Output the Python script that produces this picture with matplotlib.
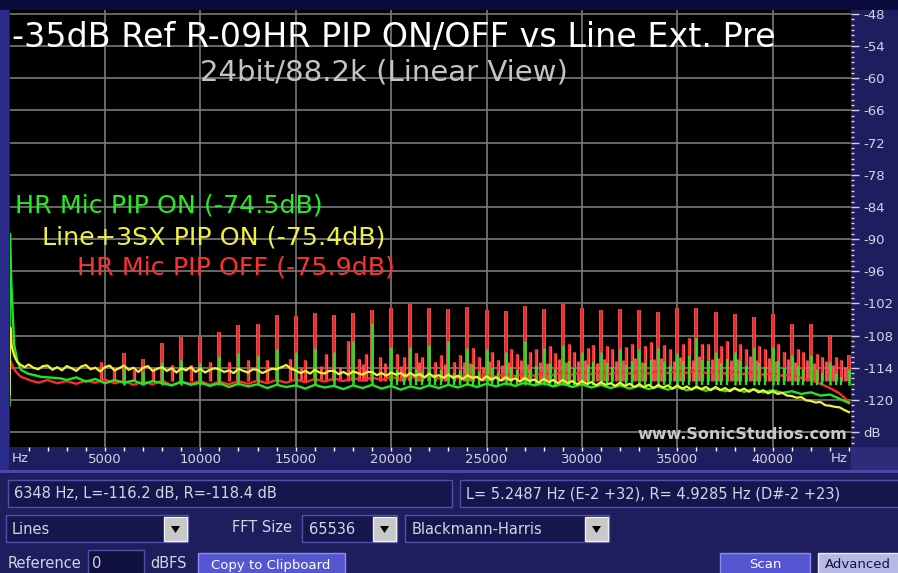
import numpy as np
import matplotlib.pyplot as plt
from matplotlib.patches import Rectangle, Polygon

# ---- data (Hz, dB) ----
# yellow: Line+3SX, read every 250 Hz above 1 kHz
YEL_F = [0, 40, 120, 250, 400, 600, 800] + list(range(1000, 44001, 250))
YEL_DB = [-119.0, -106.5, -110.0, -111.8, -112.9, -113.5, -113.9,
          -113.4, -114.0, -114.3, -113.7, -113.6, -114.4, -113.9, -114.5,
          -113.7, -114.1, -114.6, -113.8, -113.5, -114.3, -114.0, -114.7,
          -113.9, -113.6, -114.5, -114.1, -113.6, -114.4, -114.0, -114.8,
          -114.0, -113.7, -114.6, -114.2, -113.9, -114.6, -114.1, -114.9,
          -114.1, -114.5, -113.9, -114.8, -114.2, -114.9, -114.4, -114.1,
          -114.3, -114.8, -114.5, -115.0, -114.2, -114.6, -114.9, -114.3,
          -114.4, -115.0, -114.6, -114.2, -114.3, -113.9, -113.5, -114.2,
          -114.5, -115.0, -114.6, -115.1, -114.4, -114.9, -115.1, -114.6,
          -114.6, -115.2, -114.8, -115.3, -114.7, -115.0, -115.3, -114.8,
          -114.8, -115.4, -115.0, -115.5, -114.9, -115.3, -115.0, -115.6,
          -115.0, -115.5, -115.2, -115.8, -115.1, -115.7, -115.4, -115.9,
          -115.3, -115.9, -115.5, -116.1, -115.4, -115.9, -115.7, -116.3,
          -115.6, -116.2, -115.8, -116.4, -115.8, -116.3, -116.0, -116.6,
          -115.9, -116.5, -116.2, -116.8, -116.1, -116.7, -116.3, -116.9,
          -116.3, -116.9, -116.5, -117.1, -116.5, -117.0, -116.7, -117.3,
          -116.7, -117.2, -116.9, -117.4, -116.8, -117.4, -117.0, -117.6,
          -117.1, -117.6, -117.2, -117.8, -117.2, -117.7, -117.3, -117.9,
          -117.3, -117.9, -117.5, -118.1, -117.5, -118.0, -117.6, -118.2,
          -117.6, -118.2, -117.8, -118.4, -117.8, -118.3, -117.9, -118.5,
          -118.0, -118.6, -118.2, -118.8, -118.4, -118.9, -118.7, -119.2,
          -119.3, -119.6, -119.5, -120.1, -120.2, -120.5, -120.4, -121.0,
          -121.1, -121.3, -121.4, -121.9, -122.3]

GRN_F = [0, 25, 80, 160, 245, 420, 600, 960, 1640, 2700,
         3000, 3500, 4000, 4500, 5000, 5500, 6000, 6500, 7000, 7500,
         8000, 8500, 9000, 9500, 10000, 10500, 11000, 11500, 12000, 12500,
         13000, 13500, 14000, 14500, 15000, 15500, 16000, 16500, 17000, 17500,
         18000, 18500, 19000, 19500, 20000, 20500, 21000, 21500, 22000, 22500,
         23000, 23500, 24000, 24500, 25000, 25500, 26000, 26500, 27000, 27500,
         28000, 28500, 29000, 29500, 30000, 30500, 31000, 31500, 32000, 32500,
         33000, 33500, 34000, 34500, 35000, 35500, 36000, 36500, 37000, 37500,
         38000, 38500, 39000, 39500, 40000, 40500, 41000, 41500, 42000, 42500,
         43000, 43500, 44000]
GRN_DB = [-121.0, -89.0, -97.0, -103.5, -109.7, -112.9, -114.4, -115.1, -115.7, -116.0,
          -116.3, -115.8, -116.6, -116.1, -116.9, -116.3, -116.8, -116.4, -117.1, -116.5,
          -116.9, -117.3, -116.6, -117.2, -116.8, -117.4, -116.9, -117.6, -117.0, -117.5,
          -117.1, -117.8, -117.2, -117.6, -117.3, -117.9, -117.2, -117.7, -117.4, -118.0,
          -117.3, -117.8, -117.2, -117.9, -117.4, -118.1, -117.5, -117.9, -117.3, -117.8,
          -117.2, -117.7, -117.1, -117.6, -117.0, -117.5, -116.9, -117.4, -116.8, -117.3,
          -116.9, -117.5, -117.0, -117.6, -117.1, -117.7, -117.2, -117.8, -117.3, -117.9,
          -117.4, -118.0, -117.5, -118.1, -117.6, -118.2, -117.7, -118.3, -117.8, -118.4,
          -117.9, -118.5, -118.0, -118.6, -118.2, -118.7, -118.4, -118.9, -118.6, -119.2,
          -119.0, -119.8, -120.6]

RED_F = [0, 20, 100, 200, 335, 600, 1120,
         1500, 2000, 2500, 3000, 3500, 4000, 4500, 5000, 5500, 6000,
         6500, 7000, 7500, 8000, 8500, 9000, 9500, 10000, 10500, 11000,
         11500, 12000, 12500, 13000, 13500, 14000, 14500, 15000, 15500, 16000,
         16500, 17000, 17500, 18000, 18500, 19000, 19500, 20000, 20500, 21000,
         21500, 22000, 22500, 23000, 23500, 24000, 24500, 25000, 25500, 26000,
         26500, 27000, 27500, 28000, 28500, 29000, 29500, 30000, 30500, 31000,
         31500, 32000, 32500, 33000, 33500, 34000, 34500, 35000, 35500, 36000,
         36500, 37000, 37500, 38000, 38500, 39000, 39500, 40000, 40500, 41000,
         41500, 42000, 42500, 43000, 43500, 44000]
RED_DB = [-121.0, -112.5, -113.2, -114.0, -114.75, -115.7, -116.4,
          -116.8, -116.3, -116.9, -116.5, -117.0, -116.4, -116.8, -116.2, -116.9, -116.5,
          -117.2, -116.6, -117.1, -116.4, -117.3, -116.7, -117.0, -116.5, -117.2, -116.6,
          -117.1, -116.5, -117.0, -116.4, -116.9, -116.3, -116.8, -116.2, -116.7, -116.1,
          -116.6, -116.0, -116.5, -115.9, -116.4, -115.8, -116.3, -115.7, -116.2, -115.6,
          -116.1, -115.5, -116.0, -115.4, -115.9, -115.3, -115.8, -115.2, -115.7, -115.1,
          -115.6, -115.0, -115.5, -114.9, -115.4, -114.8, -115.3, -114.8, -115.2, -114.7,
          -115.2, -114.7, -115.1, -114.6, -115.1, -114.6, -115.0, -114.5, -115.0, -114.5,
          -115.0, -114.6, -115.1, -114.7, -115.2, -114.8, -115.3, -115.0, -115.5, -115.3,
          -115.9, -116.3, -117.0, -117.8, -118.8, -120.4]

# interference spikes every 1 kHz
SPIKE_F = [6000, 7000, 8000, 9000, 10000, 11000, 12000, 13000, 14000, 15000,
           16000, 17000, 18000, 19000, 20000, 21000, 22000, 23000, 24000, 25000,
           26000, 27000, 28000, 29000, 30000, 31000, 32000, 33000, 34000, 35000,
           36000, 37000, 38000, 39000, 40000, 41000, 42000, 43000, 44000]
RED_SPIKE_DB = [-111.3, -112.3, -109.4, -108.2, -108.2, -107.3, -106.0, -105.8, -104.1, -104.4,
                -103.8, -104.1, -103.8, -103.2, -102.9, -102.1, -102.9, -103.0, -102.6, -103.2,
                -103.5, -102.4, -103.0, -102.1, -102.8, -103.3, -103.1, -103.3, -103.6, -102.8,
                -102.8, -103.6, -104.0, -104.5, -104.0, -105.9, -105.9, -107.9, -111.6]
GRN_SPIKE_DB = [-114.0, -114.6, -112.9, -112.5, -113.2, -111.9, -111.3, -111.6, -110.6, -111.0,
                -110.4, -111.0, -109.1, -105.7, -110.1, -110.1, -109.7, -109.1, -110.4, -110.6,
                -111.0, -109.1, -110.4, -109.7, -111.0, -111.0, -110.6, -110.6, -110.4, -111.3,
                -108.5, -111.0, -111.0, -110.1, -110.1, -111.6, -111.6, -112.9, -114.2]

RED_MINOR_F = [4800, 5500, 6500, 7500, 8500, 9500, 10500, 11500, 12500, 13500,
               14700, 15500, 16600, 17750, 18300, 18700, 19400, 20300, 20700, 21300, 21600,
               22300, 22600, 23300, 23600, 24300, 24600, 25300, 25600, 26300, 26600,
               27300, 27600, 28300, 28600, 29300, 29600, 30300, 30600, 31300, 31600,
               32300, 32600, 33300, 33600, 34300, 34600, 35300, 35600, 36300, 36600,
               37300, 37600, 38300, 38600, 39300, 39600, 40300, 40600, 41300, 41600,
               42300, 42600, 43300, 43600]
RED_MINOR_DB = [-112.9, -114.0, -114.5, -114.0, -113.5, -113.5, -113.0, -113.0, -112.5, -112.5,
                -112.3, -112.5, -111.5, -109.1, -112.3, -111.5, -112.0, -111.5, -112.0, -111.3, -112.0,
                -112.9, -111.6, -112.9, -111.6, -110.4, -112.0, -111.0, -112.5, -110.5, -111.5,
                -111.0, -110.5, -110.0, -111.3, -109.5, -111.0, -110.3, -109.8, -110.0, -110.5,
                -110.2, -109.5, -110.0, -109.2, -109.8, -110.5, -109.5, -108.5, -109.5, -109.5,
                -110.0, -109.0, -109.5, -110.5, -110.0, -110.5, -109.5, -111.0, -110.5, -111.0,
                -111.5, -112.0, -112.0, -112.5]
RED_SMALL_F = [15300, 16300, 17300, 18500, 19700, 20500, 21450, 22800, 23800,
               24150, 24800, 25150, 25800, 26150, 26800, 27150, 27800, 28150, 28800,
               29150, 29800, 30150, 30800, 31150, 31800, 32150, 32800, 33150, 33800,
               34150, 34800, 35150, 35800, 36150, 36800, 37150, 37800, 38150, 38800,
               39150, 39800, 40150, 40800, 41150, 41800, 42150, 42800, 43150, 43800]
RED_SMALL_DB = [-114.0, -113.6, -113.8, -113.4, -113.2, -113.6, -113.0, -113.4, -112.9,
                -113.2, -113.8, -112.8, -113.5, -113.0, -112.6, -113.4, -112.9, -113.1, -112.4,
                -113.0, -112.7, -112.5, -113.2, -112.3, -112.8, -112.6, -112.1, -112.9, -112.4,
                -112.2, -112.7, -112.0, -112.5, -111.8, -112.4, -112.1, -112.6, -112.3, -111.9,
                -112.5, -112.2, -112.8, -112.3, -112.9, -112.6, -113.2, -112.8, -113.5, -113.9]
GRN_MINOR_F = [20300, 20700, 21300, 21600,
               22300, 22600, 23300, 23600, 24300, 24600, 25300, 25600, 26300, 26600,
               27300, 27600, 28300, 28600, 29300, 29600, 30300, 30600, 31300, 31600,
               32300, 32600, 33300, 33600, 34300, 34600, 35300, 35600, 36300, 36600,
               37300, 37600, 38300, 38600, 39300, 39600, 40300, 40600, 41300, 41600,
               42300, 42600, 43300, 43600]
GRN_MINOR_DB = [-114.5, -115.0, -114.3, -114.8,
                -115.2, -114.5, -115.0, -114.6, -113.5, -114.8, -114.0, -115.0, -113.8, -114.5,
                -114.2, -113.6, -113.4, -114.3, -112.8, -114.0, -113.5, -113.0, -113.2, -113.8,
                -113.5, -112.8, -113.2, -112.5, -113.0, -113.6, -112.8, -111.8, -112.6, -112.8,
                -113.2, -112.4, -112.8, -113.6, -113.2, -113.8, -112.8, -114.0, -113.6, -114.2,
                -114.5, -115.0, -115.2, -115.8]
RED_BASE = -116.5
GRN_BASE = -117.2

Y_TICKS = list(range(-126, -47, 6))
X_TICKS = [5000, 10000, 15000, 20000, 25000, 30000, 35000, 40000]

# ---- figure in screen pixels ----
W, H = 898, 573
fig = plt.figure(figsize=(W / 100, H / 100), dpi=100)
fig.patch.set_facecolor("#1e1e5e")
NARROW = ["Liberation Sans Narrow", "DejaVu Sans Condensed", "DejaVu Sans"]
LIGHT = "#d4d4e4"


def box(x, y, w, h, **kw):
    fig.add_artist(Rectangle((x / W, 1 - (y + h) / H), w / W, h / H,
                             transform=fig.transFigure, **kw))


def txt(x, y, s, **kw):
    fig.text(x / W, 1 - y / H, s, **kw)


def dropdown(x, y):
    box(x, y, 23, 24, facecolor="#c8c8c8", edgecolor="#f0f0f0", lw=1)
    tri = Polygon([((x + 7) / W, 1 - (y + 9) / H), ((x + 16) / W, 1 - (y + 9) / H),
                   ((x + 11.5) / W, 1 - (y + 16) / H)], closed=True,
                  transform=fig.transFigure, facecolor="black")
    fig.add_artist(tri)


# frame pieces
box(0, 0, W, 10, facecolor="#0b0b3e", lw=0)
box(0, 10, 9, 460, facecolor="#2b2b8c", lw=0)
box(851, 447, 47, 23, facecolor="#2c2c78", lw=0)
box(0, 470, W, 3, facecolor="#4848a8", lw=0)

ax = fig.add_axes([9.5 / W, 1 - 447 / H, (851 - 9.5) / W, (447 - 10) / H])
ax.set_facecolor("black")
ax.set_xlim(0, 44100)
ax.set_ylim(-128.8, -47.25)
for s in ax.spines.values():
    s.set_visible(False)

ax.set_yticks(Y_TICKS)
ax.set_yticklabels(["dB" if v == -126 else str(v) for v in Y_TICKS])
ax.set_yticks(np.arange(-128, -47, 1.0), minor=True)
ax.yaxis.tick_right()
ax.tick_params(axis="y", which="major", colors=LIGHT, length=6, width=1, pad=3, labelsize=9.5)
ax.tick_params(axis="y", which="minor", colors=LIGHT, length=2, width=1)
ax.set_xticks(X_TICKS)
ax.set_xticks(np.arange(1000, 44001, 1000), minor=True)
ax.tick_params(axis="x", which="both", colors="white", length=3, width=1, pad=1.5, labelsize=9.5)
for lab in ax.get_xticklabels() + ax.get_yticklabels():
    lab.set_family(NARROW)
    lab.set_color(LIGHT)
ax.grid(True, which="major", color="#7a7a7a", lw=1.2)
ax.set_axisbelow(True)

# red (PIP OFF), then green, then yellow on top
ax.vlines(RED_SMALL_F, RED_BASE, RED_SMALL_DB, color="#ff5050", lw=2.0, zorder=2)
ax.vlines(RED_MINOR_F, RED_BASE, RED_MINOR_DB, color="#ff6060", lw=2.4, zorder=2)
ax.vlines(RED_MINOR_F, RED_BASE, RED_MINOR_DB, color="#ff2626", lw=1.2, zorder=2)
ax.vlines(SPIKE_F, RED_BASE, RED_SPIKE_DB, color="#ff6a6a", lw=2.6, zorder=2)
ax.vlines(SPIKE_F, RED_BASE, RED_SPIKE_DB, color="#ff2020", lw=1.4, zorder=2)
ax.plot(RED_F, RED_DB, color="#ff2a2a", lw=1.7, zorder=2)
ax.vlines(GRN_MINOR_F, GRN_BASE, GRN_MINOR_DB, color="#22e622", lw=1.6, zorder=3)
ax.vlines(SPIKE_F, GRN_BASE, GRN_SPIKE_DB, color="#22e622", lw=1.8, zorder=3)
ax.plot(GRN_F, GRN_DB, color="#22e622", lw=1.7, zorder=3)
ax.plot(YEL_F, YEL_DB, color="#f2f238", lw=1.6, zorder=4)

# texts drawn on the trace window
txt(12, 47, "-35dB Ref R-09HR PIP ON/OFF vs Line Ext. Pre", color="white",
    fontsize=24, va="baseline")
txt(200, 80, "24bit/88.2k (Linear View)", color="#c4c4c4", fontsize=21, va="baseline")
txt(15, 213, "HR Mic PIP ON (-74.5dB)", color="#22ee22", fontsize=18.3, va="baseline")
txt(42, 245, "Line+3SX PIP ON (-75.4dB)", color="#f0f040", fontsize=18.3, va="baseline")
txt(77, 274, "HR Mic PIP OFF (-75.9dB)", color="#ff3030", fontsize=18.3, va="baseline")
txt(847, 439, "www.SonicStudios.com", color="#c8c8c8", fontsize=11.5,
    fontweight="bold", ha="right", va="baseline")
txt(12, 459, "Hz", color=LIGHT, fontsize=9.5, va="center", family=NARROW)
txt(848, 459, "Hz", color=LIGHT, fontsize=9.5, va="center", ha="right", family=NARROW)

# control panel underneath
panel = dict(facecolor="#16164e", edgecolor="#5050a8", lw=1)
box(8, 480, 444, 27, **panel)
box(460, 480, 440, 27, **panel)
txt(14, 494, "6348 Hz, L=-116.2 dB, R=-118.4 dB", color=LIGHT, fontsize=10.5,
    va="center", family=NARROW)
txt(466, 494, "L= 5.2487 Hz (E-2 +32), R= 4.9285 Hz (D#-2 +23)", color=LIGHT,
    fontsize=10.5, va="center", family=NARROW)

box(6, 515, 182, 27, **panel)
txt(12, 529, "Lines", color=LIGHT, fontsize=10.5, va="center", family=NARROW)
dropdown(164, 517)
txt(232, 528, "FFT Size", color=LIGHT, fontsize=10.5, va="center", family=NARROW)
box(302, 515, 95, 27, **panel)
txt(309, 529, "65536", color=LIGHT, fontsize=10.5, va="center", family=NARROW)
dropdown(373, 517)
box(405, 515, 204, 27, **panel)
txt(412, 529, "Blackmann-Harris", color=LIGHT, fontsize=10.5, va="center", family=NARROW)
dropdown(585, 517)

txt(8, 563, "Reference", color=LIGHT, fontsize=10.5, va="center", family=NARROW)
box(88, 550, 56, 26, facecolor="#10103e", edgecolor="#5050a8", lw=1)
txt(92, 563, "0", color=LIGHT, fontsize=10.5, va="center", family=NARROW)
txt(150, 564, "dBFS", color=LIGHT, fontsize=10.5, va="center", family=NARROW)
box(198, 553, 147, 24, facecolor="#5656d2", edgecolor="#8c8cf0", lw=1)
txt(271, 565, "Copy to Clipboard", color="white", fontsize=9.5, ha="center",
    va="center", family=NARROW)
box(720, 553, 90, 24, facecolor="#5656d2", edgecolor="#8c8cf0", lw=1)
txt(765, 565, "Scan", color="white", fontsize=9.5, ha="center", va="center", family=NARROW)
box(818, 553, 85, 24, facecolor="#b8b8e4", edgecolor="#e8e8ff", lw=1)
txt(858, 565, "Advanced", color="#10104a", fontsize=9.5, ha="center", va="center",
    family=NARROW)

fig.savefig("out.png", dpi=100, facecolor=fig.get_facecolor())
